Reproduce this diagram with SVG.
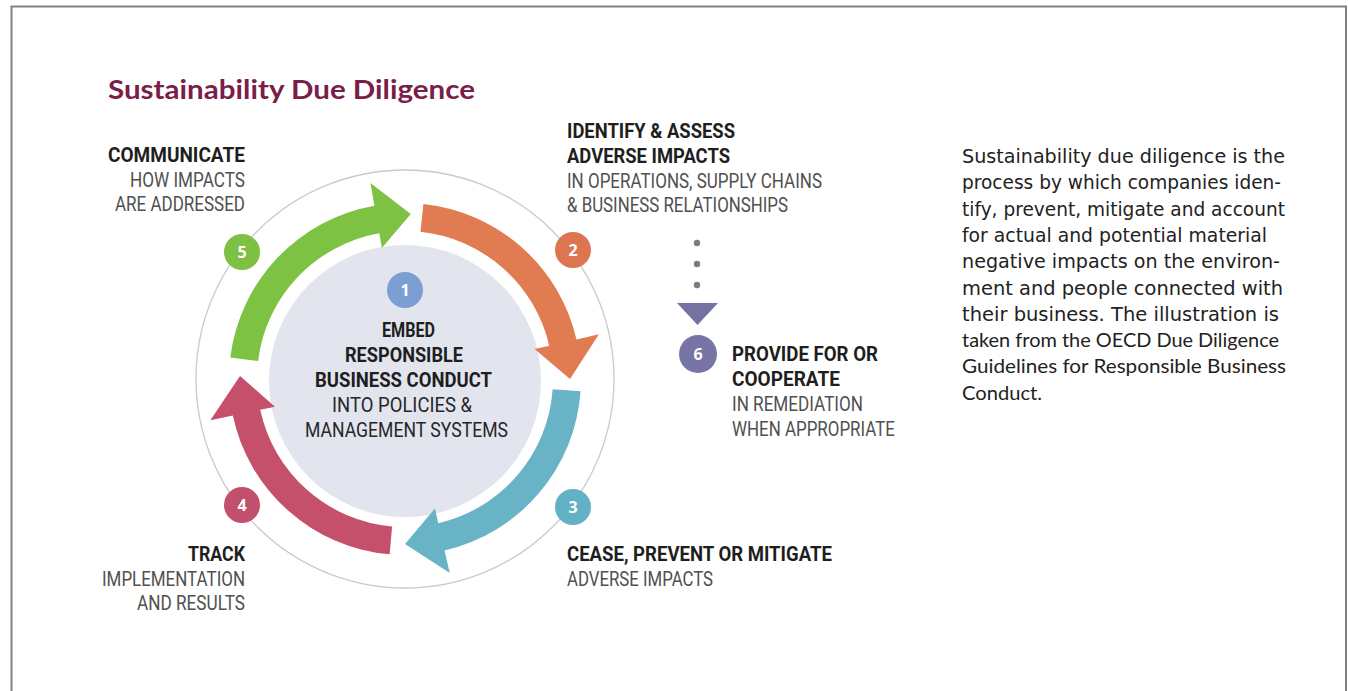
<svg xmlns="http://www.w3.org/2000/svg" width="1348" height="691" viewBox="0 0 1348 691">
<style>
.b{font-family:Roboto,"Liberation Sans",sans-serif;font-weight:700;font-size:19.5px;fill:#1e1e1e}
.r{font-family:Roboto,"Liberation Sans",sans-serif;font-weight:400;font-size:19.5px;fill:#505050}
.rc{font-family:Roboto,"Liberation Sans",sans-serif;font-weight:400;font-size:19.5px;fill:#262626}
.num{font-family:"Open Sans","Liberation Sans",sans-serif;font-weight:700;font-size:16px;fill:#ffffff;text-anchor:middle}
.p{font-family:"DejaVu Sans","Liberation Sans",sans-serif;font-size:19px;fill:#222222}
.p2{font-family:Lato,"Liberation Sans",sans-serif;font-size:20px;fill:#222222}
.title{font-family:Lato,"Open Sans",sans-serif;font-weight:700;font-size:26px;fill:#7b1d4a}
</style>
<rect width="1348" height="691" fill="#ffffff"/>
<rect x="11.5" y="6.5" width="1334.5" height="720" fill="none" stroke="#808080" stroke-width="2"/>
<text class="title" x="108" y="99" textLength="367" lengthAdjust="spacingAndGlyphs">Sustainability Due Diligence</text>

<g id="ring">
<circle cx="405" cy="379" r="209" fill="none" stroke="#c9cacf" stroke-width="1.3"/>
<circle cx="405" cy="381" r="136" fill="#e2e4ee"/>
</g>

<g id="connectors">
<path d="M230.31 357.55 A176 176 0 0 1 374.44 205.67 L370.44 183.02 L410.76 214.10 L381.90 248.02 L379.30 233.25 A148 148 0 0 0 258.10 360.96 Z" fill="#7dc243"/>
<path d="M423.40 203.96 A176 176 0 0 1 576.49 339.41 L598.90 334.23 L570 379 L534.59 349.08 L549.21 345.71 A148 148 0 0 0 420.47 231.81 Z" fill="#e07b52"/>
<path d="M580.57 391.28 A176 176 0 0 1 444.59 550.49 L449.77 572.90 L405 544 L434.92 508.59 L438.29 523.21 A148 148 0 0 0 552.64 389.32 Z" fill="#68b4c6"/>
<path d="M389.66 554.33 A176 176 0 0 1 232.85 415.59 L210.35 420.37 L240.02 376.12 L274.91 406.65 L260.23 409.77 A148 148 0 0 0 392.10 526.44 Z" fill="#c4506c"/>
<circle cx="697" cy="243" r="3.2" fill="#7a7a80"/>
<circle cx="697" cy="264" r="3.2" fill="#7a7a80"/>
<circle cx="697" cy="285" r="3.2" fill="#7a7a80"/>
<polygon points="677,303 718,303 697.5,325" fill="#7471a3"/>
</g>

<g id="step1">
<circle cx="405" cy="290" r="18" fill="#7b9fd2"/>
<text class="num" x="405" y="296">1</text>
<text class="b" x="382" y="337" textLength="53" lengthAdjust="spacingAndGlyphs">EMBED</text>
<text class="b" x="345" y="362" textLength="118" lengthAdjust="spacingAndGlyphs">RESPONSIBLE</text>
<text class="b" x="315" y="387" textLength="177" lengthAdjust="spacingAndGlyphs">BUSINESS CONDUCT</text>
<text class="rc" x="332" y="412" textLength="140" lengthAdjust="spacingAndGlyphs">INTO POLICIES &amp;</text>
<text class="rc" x="305" y="437" textLength="203" lengthAdjust="spacingAndGlyphs">MANAGEMENT SYSTEMS</text>
</g>

<g id="step2">
<circle cx="573" cy="250" r="18" fill="#dd7650"/>
<text class="num" x="573" y="256">2</text>
<text class="b" x="567" y="138" textLength="168" lengthAdjust="spacingAndGlyphs">IDENTIFY &amp; ASSESS</text>
<text class="b" x="567" y="163" textLength="163" lengthAdjust="spacingAndGlyphs">ADVERSE IMPACTS</text>
<text class="r" x="567" y="188" textLength="255" lengthAdjust="spacingAndGlyphs">IN OPERATIONS, SUPPLY CHAINS</text>
<text class="r" x="567" y="212" textLength="221" lengthAdjust="spacingAndGlyphs">&amp; BUSINESS RELATIONSHIPS</text>
</g>

<g id="step3">
<circle cx="573" cy="507" r="18" fill="#62b1c4"/>
<text class="num" x="573" y="513">3</text>
<text class="b" x="567" y="561" textLength="265" lengthAdjust="spacingAndGlyphs">CEASE, PREVENT OR MITIGATE</text>
<text class="r" x="567" y="586" textLength="146" lengthAdjust="spacingAndGlyphs">ADVERSE IMPACTS</text>
</g>

<g id="step4">
<circle cx="242" cy="505" r="18" fill="#c2506c"/>
<text class="num" x="242" y="511">4</text>
<text class="b" x="188" y="561" textLength="57" lengthAdjust="spacingAndGlyphs">TRACK</text>
<text class="r" x="102" y="586" textLength="143" lengthAdjust="spacingAndGlyphs">IMPLEMENTATION</text>
<text class="r" x="137" y="610" textLength="108" lengthAdjust="spacingAndGlyphs">AND RESULTS</text>
</g>

<g id="step5">
<circle cx="242" cy="252" r="18" fill="#7dc043"/>
<text class="num" x="242" y="258">5</text>
<text class="b" x="108" y="162" textLength="137" lengthAdjust="spacingAndGlyphs">COMMUNICATE</text>
<text class="r" x="130" y="187" textLength="115" lengthAdjust="spacingAndGlyphs">HOW IMPACTS</text>
<text class="r" x="115" y="211" textLength="130" lengthAdjust="spacingAndGlyphs">ARE ADDRESSED</text>
</g>

<g id="step6">
<circle cx="698" cy="354" r="19" fill="#7774a6"/>
<text class="num" x="698" y="360">6</text>
<text class="b" x="732" y="361" textLength="146" lengthAdjust="spacingAndGlyphs">PROVIDE FOR OR</text>
<text class="b" x="732" y="386" textLength="108" lengthAdjust="spacingAndGlyphs">COOPERATE</text>
<text class="r" x="732" y="411" textLength="131" lengthAdjust="spacingAndGlyphs">IN REMEDIATION</text>
<text class="r" x="732" y="436" textLength="163" lengthAdjust="spacingAndGlyphs">WHEN APPROPRIATE</text>
</g>

<g id="description">
<text class="p" x="962" y="163" textLength="323" lengthAdjust="spacingAndGlyphs">Sustainability due diligence is the</text>
<text class="p" x="962" y="189.3" textLength="319" lengthAdjust="spacingAndGlyphs">process by which companies iden-</text>
<text class="p" x="962" y="215.6" textLength="323" lengthAdjust="spacingAndGlyphs">tify, prevent, mitigate and account</text>
<text class="p" x="962" y="241.9" textLength="305" lengthAdjust="spacingAndGlyphs">for actual and potential material</text>
<text class="p" x="962" y="268.2" textLength="318" lengthAdjust="spacingAndGlyphs">negative impacts on the environ-</text>
<text class="p" x="962" y="294.5" textLength="321" lengthAdjust="spacingAndGlyphs">ment and people connected with</text>
<text class="p" x="962" y="320.8" textLength="317" lengthAdjust="spacingAndGlyphs">their business. The illustration is</text>
<text class="p2" x="962" y="347.1" textLength="317" lengthAdjust="spacingAndGlyphs">taken from the OECD Due Diligence</text>
<text class="p2" x="962" y="373.4" textLength="324" lengthAdjust="spacingAndGlyphs">Guidelines for Responsible Business</text>
<text class="p2" x="962" y="399.7" textLength="80" lengthAdjust="spacingAndGlyphs">Conduct.</text>
</g>
</svg>
